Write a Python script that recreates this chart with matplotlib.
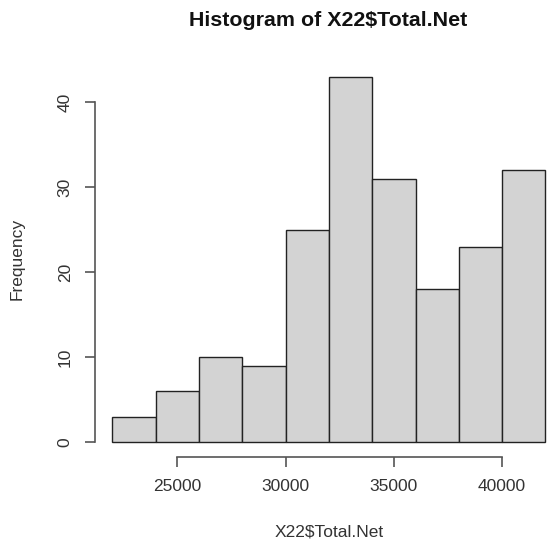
import numpy as np
import matplotlib.pyplot as plt

plt.rcParams['font.family'] = ['Liberation Sans', 'DejaVu Sans']

# histogram bins of X22$Total.Net
bin_edges = np.arange(22000, 42001, 2000)
counts = [3, 6, 10, 9, 25, 43, 31, 18, 23, 32]
x_ticks = [25000, 30000, 35000, 40000]
y_ticks = [0, 10, 20, 30, 40]

fig = plt.figure(figsize=(5.51, 5.44), dpi=100)
ax = fig.add_axes([0.1724, 0.1605, 0.849, 0.7255])

ax.hist(bin_edges[:-1], bins=bin_edges, weights=counts,
        color='#D3D3D3', edgecolor='#222222', linewidth=1.0)

# R-style 4% padding around the data range
xr = bin_edges[-1] - bin_edges[0]
ax.set_xlim(bin_edges[0] - 0.04 * xr, bin_edges[-1] + 0.04 * xr)
ym = max(counts)
ax.set_ylim(-0.04 * ym, ym * 1.04)

for s in ['top', 'right']:
    ax.spines[s].set_visible(False)
ax.spines['left'].set_bounds(0, 40)
ax.spines['bottom'].set_bounds(25000, 40000)
for s in ['left', 'bottom']:
    ax.spines[s].set_color('#555555')
    ax.spines[s].set_linewidth(1.2)

ax.set_xticks(x_ticks)
ax.set_xticklabels([str(t) for t in x_ticks])
ax.set_yticks(y_ticks)
ax.set_yticklabels([str(t) for t in y_ticks], rotation=90, va='center')
ax.tick_params(length=7, width=1.2, color='#555555', labelsize=12.5,
               labelcolor='#333333', pad=9)

ax.set_xlabel('X22$Total.Net', fontsize=12.5, color='#333333', labelpad=22)
ax.set_ylabel('Frequency', fontsize=12.5, color='#333333', labelpad=24)
fig.text(0.595, 0.963, 'Histogram of X22$Total.Net', ha='center', va='center',
         fontsize=15.4, fontweight='bold', color='#111111')

fig.savefig('out.png', dpi=100)
